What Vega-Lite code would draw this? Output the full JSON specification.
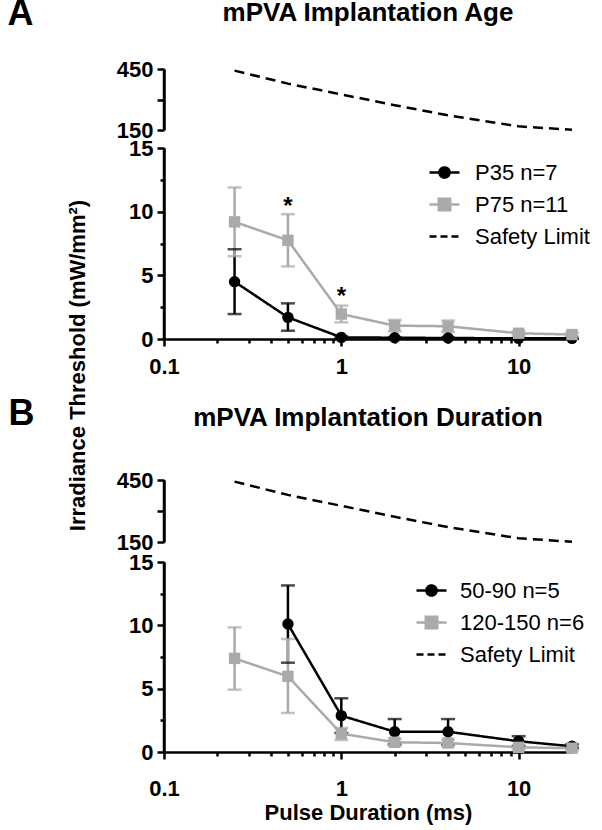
{
  "$schema": "https://vega.github.io/schema/vega-lite/v6.json",
  "padding": {"left": 7, "top": -5, "right": 5, "bottom": 5},
  "config": {
    "font": "Liberation Sans",
    "view": {"stroke": null},
    "axis": {
      "domainColor": "black", "domainWidth": 2.5, "tickColor": "black", "tickWidth": 2.5, "tickSize": 7,
      "labelFont": "Liberation Sans", "labelFontSize": 22, "labelFontWeight": "bold", "labelColor": "black",
      "titleFont": "Liberation Sans", "titleFontSize": 22, "titleFontWeight": "bold", "titleColor": "black",
      "grid": false
    },
    "title": {"font": "Liberation Sans", "fontSize": 26, "fontWeight": "bold", "color": "black", "frame": "group", "anchor": "middle"},
    "legend": {"labelFont": "Liberation Sans", "labelFontSize": 22, "labelColor": "black", "symbolSize": 900, "symbolStrokeWidth": 2.5, "rowPadding": 4, "labelLimit": 300}
  },
  "datasets": {
    "limit": [
      {"x": 0.25, "limit": 442}, {"x": 0.5, "limit": 378}, {"x": 1, "limit": 325}, {"x": 2, "limit": 272},
      {"x": 4, "limit": 222}, {"x": 10, "limit": 168}, {"x": 20, "limit": 151}
    ],
    "upperAxisLine": [{"x": 0.1, "from": 150, "to": 450}],
    "lowerAxisLine": [{"x": 0.1, "from": 0, "to": 15}],
    "age": [
      {"series": "P35 n=7", "x": 0.25, "mean": 4.5, "lo": 1.96, "hi": 7.05},
      {"series": "P35 n=7", "x": 0.5, "mean": 1.7, "lo": 0.65, "hi": 2.8},
      {"series": "P35 n=7", "x": 1, "mean": 0.13, "lo": 0.05, "hi": 0.21},
      {"series": "P35 n=7", "x": 2, "mean": 0.1, "lo": 0.05, "hi": 0.15},
      {"series": "P35 n=7", "x": 4, "mean": 0.08, "lo": 0.04, "hi": 0.12},
      {"series": "P35 n=7", "x": 10, "mean": 0.05, "lo": 0.02, "hi": 0.08},
      {"series": "P35 n=7", "x": 20, "mean": 0.05, "lo": 0.02, "hi": 0.08},
      {"series": "P75 n=11", "x": 0.25, "mean": 9.2, "lo": 6.5, "hi": 11.9},
      {"series": "P75 n=11", "x": 0.5, "mean": 7.75, "lo": 5.7, "hi": 9.8},
      {"series": "P75 n=11", "x": 1, "mean": 1.96, "lo": 1.31, "hi": 2.62},
      {"series": "P75 n=11", "x": 2, "mean": 1.05, "lo": 0.6, "hi": 1.5},
      {"series": "P75 n=11", "x": 4, "mean": 1.0, "lo": 0.55, "hi": 1.45},
      {"series": "P75 n=11", "x": 10, "mean": 0.45, "lo": 0.28, "hi": 0.62},
      {"series": "P75 n=11", "x": 20, "mean": 0.35, "lo": 0.2, "hi": 0.5}
    ],
    "ageStars": [
      {"x": 0.5, "y": 10.7, "label": "*"},
      {"x": 1, "y": 3.65, "label": "*"}
    ],
    "duration": [
      {"series": "50-90 n=5", "x": 0.5, "mean": 10.1, "lo": 7.05, "hi": 13.15},
      {"series": "50-90 n=5", "x": 1, "mean": 2.87, "lo": 1.5, "hi": 4.24},
      {"series": "50-90 n=5", "x": 2, "mean": 1.6, "lo": 0.6, "hi": 2.6},
      {"series": "50-90 n=5", "x": 4, "mean": 1.6, "lo": 0.6, "hi": 2.6},
      {"series": "50-90 n=5", "x": 10, "mean": 0.85, "lo": 0.45, "hi": 1.25},
      {"series": "50-90 n=5", "x": 20, "mean": 0.45, "lo": 0.3, "hi": 0.6},
      {"series": "120-150 n=6", "x": 0.25, "mean": 7.39, "lo": 4.92, "hi": 9.84},
      {"series": "120-150 n=6", "x": 0.5, "mean": 5.97, "lo": 3.08, "hi": 8.92},
      {"series": "120-150 n=6", "x": 1, "mean": 1.45, "lo": 0.95, "hi": 1.9},
      {"series": "120-150 n=6", "x": 2, "mean": 0.77, "lo": 0.5, "hi": 1.05},
      {"series": "120-150 n=6", "x": 4, "mean": 0.71, "lo": 0.45, "hi": 0.97},
      {"series": "120-150 n=6", "x": 10, "mean": 0.37, "lo": 0.2, "hi": 0.55},
      {"series": "120-150 n=6", "x": 20, "mean": 0.3, "lo": 0.15, "hi": 0.45}
    ]
  },
  "bounds": "flush",
  "spacing": 141,
  "resolve": {"scale": {"fill": "independent", "stroke": "independent", "strokeDash": "independent", "shape": "independent", "x": "independent", "y": "independent"},
              "legend": {"fill": "independent", "stroke": "independent", "strokeDash": "independent"}},
  "vconcat": [
    {
      "width": 408, "height": 270,
      "title": {"text": "mPVA Implantation Age", "offset": -31},
      "data": {"name": "age"},
      "encoding": {
        "x": {"field": "x", "type": "quantitative", "scale": {"type": "log", "domain": [0.1, 20]}, "axis": null}
      },
      "layer": [
        {"data": {"name": "limit"}, "mark": {"type": "line", "strokeDash": [10, 6], "strokeWidth": 2.5, "color": "black"},
          "encoding": {
            "y": {"field": "limit", "type": "quantitative", "scale": {"domain": [150, 450], "range": [61, 0]},
              "axis": {"orient": "left", "domain": true, "values": [150, 300, 450], "labelExpr": "datum.value === 300 ? '' : format(datum.value, 'd')", "tickSize": 7, "labelPadding": 4,
                "title": "A", "titleAngle": 0, "titleFontSize": 36, "titleX": -144, "titleY": -56, "titleAlign": "center", "titleBaseline": "middle"}}}},
        {"data": {"name": "upperAxisLine"}, "mark": {"type": "rule", "color": "black", "strokeWidth": 2.5, "clip": false},
          "encoding": {
            "y": {"field": "from", "type": "quantitative", "scale": {"domain": [150, 450], "range": [61, 0]}, "axis": null},
            "y2": {"field": "to"}}},
        {"data": {"name": "lowerAxisLine"}, "mark": {"type": "rule", "color": "black", "strokeWidth": 2.5, "clip": false},
          "encoding": {
            "y": {"field": "from", "type": "quantitative", "scale": {"domain": [0, 15], "range": [270, 79]}, "axis": null},
            "y2": {"field": "to"}}},
        {"mark": {"type": "rule", "strokeWidth": 2.5},
          "encoding": {
            "x": {"field": "x", "type": "quantitative",
              "axis": {"orient": "bottom", "domain": true, "values": [0.1, 1, 10], "labelExpr": "datum.value < 0.5 ? '0.1' : (datum.value < 5 ? '1' : '10')", "tickSize": 7, "labelPadding": 10, "labelOverlap": false, "labelFlush": false, "title": null}},
            "y": {"field": "lo", "type": "quantitative", "scale": {"domain": [0, 15], "range": [270, 79]},
              "axis": {"orient": "left", "domain": true, "values": [0, 5, 10, 15], "labelExpr": "format(datum.value, 'd')", "tickSize": 7, "labelPadding": 4,
                "title": "Irradiance Threshold (mW/mm²)", "titleX": -87, "titleY": 296, "titleAngle": 270, "titleAlign": "center", "titleBaseline": "middle"}},
            "y2": {"field": "hi"},
            "stroke": {"field": "series", "type": "nominal", "scale": {"domain": ["P35 n=7", "P75 n=11", "Safety Limit"], "range": ["black", "#aaaaaa", "black"]},
              "legend": {"title": null, "orient": "none", "legendX": 264, "legendY": 87, "labelOffset": 14, "rowPadding": 4,
                "encode": {"symbols": {"update": {"shape": {"signal": "datum.index === 0 ? 'M-1,0H1M-0.34,0A0.34,0.34,0,1,0,0.34,0A0.34,0.34,0,1,0,-0.34,0Z' : datum.index === 1 ? 'M-1,0H1M-0.38,-0.38H0.38V0.38H-0.38Z' : 'M-1,0H1'"}}}}}}}},
        {"mark": {"type": "tick", "orient": "horizontal", "size": 14, "thickness": 2.5},
          "encoding": {
            "x": {"field": "x", "type": "quantitative",
              "axis": {"orient": "bottom", "values": [0.2, 0.3, 0.4, 0.5, 0.6, 0.7, 0.8, 0.9, 2, 3, 4, 5, 6, 7, 8, 9], "labels": false, "domain": false, "tickSize": 4, "title": null}},
            "y": {"field": "hi", "type": "quantitative", "scale": {"domain": [0, 15], "range": [270, 79]},
              "axis": {"orient": "left", "values": [2.5, 7.5, 12.5], "labels": false, "domain": false, "tickSize": 4, "title": null}},
            "fill": {"field": "series", "type": "nominal", "scale": {"domain": ["P35 n=7", "P75 n=11", "Safety Limit"], "range": ["black", "#aaaaaa", "black"]}}}},
        {"mark": {"type": "tick", "orient": "horizontal", "size": 14, "thickness": 2.5},
          "encoding": {"y": {"field": "lo", "type": "quantitative", "scale": {"domain": [0, 15], "range": [270, 79]}, "axis": null},
            "fill": {"field": "series", "type": "nominal", "scale": {"domain": ["P35 n=7", "P75 n=11", "Safety Limit"], "range": ["black", "#aaaaaa", "black"]}}}},
        {"mark": {"type": "line", "strokeWidth": 2.5},
          "encoding": {"y": {"field": "mean", "type": "quantitative", "scale": {"domain": [0, 15], "range": [270, 79]}, "axis": null},
            "stroke": {"field": "series", "type": "nominal", "scale": {"domain": ["P35 n=7", "P75 n=11", "Safety Limit"], "range": ["black", "#aaaaaa", "black"]}},
            "strokeDash": {"field": "series", "type": "nominal", "scale": {"domain": ["P35 n=7", "P75 n=11", "Safety Limit"], "range": [[1, 0], [1, 0], [7, 4]]}}}},
        {"mark": {"type": "point", "filled": true, "size": 130, "opacity": 1},
          "encoding": {"y": {"field": "mean", "type": "quantitative", "scale": {"domain": [0, 15], "range": [270, 79]}, "axis": null},
            "fill": {"field": "series", "type": "nominal", "scale": {"domain": ["P35 n=7", "P75 n=11", "Safety Limit"], "range": ["black", "#aaaaaa", "black"]}},
            "shape": {"field": "series", "type": "nominal", "scale": {"domain": ["P35 n=7", "P75 n=11"], "range": ["circle", "square"]}, "legend": null}}},
        {"data": {"name": "ageStars"}, "mark": {"type": "text", "fontSize": 24, "fontWeight": "bold", "baseline": "middle", "align": "center", "color": "black", "dy": 4},
          "encoding": {"y": {"field": "y", "type": "quantitative", "scale": {"domain": [0, 15], "range": [270, 79]}, "axis": null},
            "text": {"field": "label"}}}
      ],
      "resolve": {"scale": {"y": "independent"}, "axis": {"x": "independent", "y": "independent"}}
    },
    {
      "width": 408, "height": 272,
      "title": {"text": "mPVA Implantation Duration", "offset": -36},
      "data": {"name": "duration"},
      "encoding": {
        "x": {"field": "x", "type": "quantitative", "scale": {"type": "log", "domain": [0.1, 20]}, "axis": null}
      },
      "layer": [
        {"data": {"name": "limit"}, "mark": {"type": "line", "strokeDash": [10, 6], "strokeWidth": 2.5, "color": "black"},
          "encoding": {
            "y": {"field": "limit", "type": "quantitative", "scale": {"domain": [150, 450], "range": [62, 0]},
              "axis": {"orient": "left", "domain": true, "values": [150, 300, 450], "labelExpr": "datum.value === 300 ? '' : format(datum.value, 'd')", "tickSize": 7, "labelPadding": 4,
                "title": "B", "titleAngle": 0, "titleFontSize": 36, "titleX": -143, "titleY": -67, "titleAlign": "center", "titleBaseline": "middle"}}}},
        {"data": {"name": "upperAxisLine"}, "mark": {"type": "rule", "color": "black", "strokeWidth": 2.5, "clip": false},
          "encoding": {
            "y": {"field": "from", "type": "quantitative", "scale": {"domain": [150, 450], "range": [62, 0]}, "axis": null},
            "y2": {"field": "to"}}},
        {"data": {"name": "lowerAxisLine"}, "mark": {"type": "rule", "color": "black", "strokeWidth": 2.5, "clip": false},
          "encoding": {
            "y": {"field": "from", "type": "quantitative", "scale": {"domain": [0, 15], "range": [272, 82]}, "axis": null},
            "y2": {"field": "to"}}},
        {"mark": {"type": "rule", "strokeWidth": 2.5},
          "encoding": {
            "x": {"field": "x", "type": "quantitative",
              "axis": {"orient": "bottom", "domain": true, "values": [0.1, 1, 10], "labelExpr": "datum.value < 0.5 ? '0.1' : (datum.value < 5 ? '1' : '10')", "tickSize": 7, "labelPadding": 19, "labelOverlap": false, "labelFlush": false, "title": "Pulse Duration (ms)", "titlePadding": 3}},
            "y": {"field": "lo", "type": "quantitative", "scale": {"domain": [0, 15], "range": [272, 82]},
              "axis": {"orient": "left", "domain": true, "values": [0, 5, 10, 15], "labelExpr": "format(datum.value, 'd')", "tickSize": 7, "labelPadding": 4, "title": null}},
            "y2": {"field": "hi"},
            "stroke": {"field": "series", "type": "nominal", "scale": {"domain": ["50-90 n=5", "120-150 n=6", "Safety Limit"], "range": ["black", "#aaaaaa", "black"]},
              "legend": {"title": null, "orient": "none", "legendX": 251, "legendY": 94, "labelOffset": 12, "rowPadding": 4,
                "encode": {"symbols": {"update": {"shape": {"signal": "datum.index === 0 ? 'M-1,0H1M-0.34,0A0.34,0.34,0,1,0,0.34,0A0.34,0.34,0,1,0,-0.34,0Z' : datum.index === 1 ? 'M-1,0H1M-0.38,-0.38H0.38V0.38H-0.38Z' : 'M-1,0H1'"}}}}}}}},
        {"mark": {"type": "tick", "orient": "horizontal", "size": 14, "thickness": 2.5},
          "encoding": {
            "x": {"field": "x", "type": "quantitative",
              "axis": {"orient": "bottom", "values": [0.2, 0.3, 0.4, 0.5, 0.6, 0.7, 0.8, 0.9, 2, 3, 4, 5, 6, 7, 8, 9], "labels": false, "domain": false, "tickSize": 4, "title": null}},
            "y": {"field": "hi", "type": "quantitative", "scale": {"domain": [0, 15], "range": [272, 82]},
              "axis": {"orient": "left", "values": [2.5, 7.5, 12.5], "labels": false, "domain": false, "tickSize": 4, "title": null}},
            "fill": {"field": "series", "type": "nominal", "scale": {"domain": ["50-90 n=5", "120-150 n=6", "Safety Limit"], "range": ["black", "#aaaaaa", "black"]}}}},
        {"mark": {"type": "tick", "orient": "horizontal", "size": 14, "thickness": 2.5},
          "encoding": {"y": {"field": "lo", "type": "quantitative", "scale": {"domain": [0, 15], "range": [272, 82]}, "axis": null},
            "fill": {"field": "series", "type": "nominal", "scale": {"domain": ["50-90 n=5", "120-150 n=6", "Safety Limit"], "range": ["black", "#aaaaaa", "black"]}}}},
        {"mark": {"type": "line", "strokeWidth": 2.5},
          "encoding": {"y": {"field": "mean", "type": "quantitative", "scale": {"domain": [0, 15], "range": [272, 82]}, "axis": null},
            "stroke": {"field": "series", "type": "nominal", "scale": {"domain": ["50-90 n=5", "120-150 n=6", "Safety Limit"], "range": ["black", "#aaaaaa", "black"]}},
            "strokeDash": {"field": "series", "type": "nominal", "scale": {"domain": ["50-90 n=5", "120-150 n=6", "Safety Limit"], "range": [[1, 0], [1, 0], [7, 4]]}}}},
        {"mark": {"type": "point", "filled": true, "size": 130, "opacity": 1},
          "encoding": {"y": {"field": "mean", "type": "quantitative", "scale": {"domain": [0, 15], "range": [272, 82]}, "axis": null},
            "fill": {"field": "series", "type": "nominal", "scale": {"domain": ["50-90 n=5", "120-150 n=6", "Safety Limit"], "range": ["black", "#aaaaaa", "black"]}},
            "shape": {"field": "series", "type": "nominal", "scale": {"domain": ["50-90 n=5", "120-150 n=6"], "range": ["circle", "square"]}, "legend": null}}}
      ],
      "resolve": {"scale": {"y": "independent"}, "axis": {"x": "independent", "y": "independent"}}
    }
  ]
}
